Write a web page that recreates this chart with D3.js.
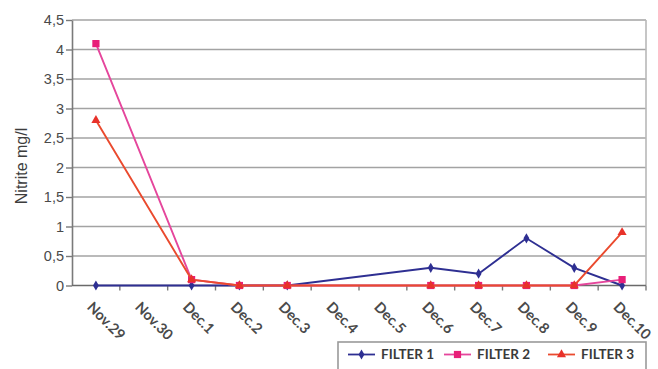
<!DOCTYPE html>
<html>
<head>
<meta charset="utf-8">
<script src="https://cdn.jsdelivr.net/npm/d3@7"></script>
<style>
  html, body { margin: 0; padding: 0; background: #fff; }
  svg { display: block; }
</style>
</head>
<body>
<svg id="chart" width="658" height="369"></svg>
<script>
// Sampling days along the horizontal axis
const categories = ["Nov.29", "Nov.30", "Dec.1", "Dec.2", "Dec.3", "Dec.4", "Dec.5",
                    "Dec.6", "Dec.7", "Dec.8", "Dec.9", "Dec.10"];

// Nitrite readings (mg/l); null = no sample that day
const filter1 = [0, null, 0, 0, 0, null, null, 0.3, 0.2, 0.8, 0.3, 0];
const filter2 = [4.1, null, 0.1, 0, 0, null, null, 0, 0, 0, 0, 0.1];
const filter3 = [2.8, null, 0.1, 0, 0, null, null, 0, 0, 0, 0, 0.9];

const yTicks = [0, 0.5, 1, 1.5, 2, 2.5, 3, 3.5, 4, 4.5];
const yTickLabels = ["0", "0,5", "1", "1,5", "2", "2,5", "3", "3,5", "4", "4,5"];
const seriesNames = ["FILTER 1", "FILTER 2", "FILTER 3"];

const series = [
  { name: seriesNames[0], values: filter1, color: "#2e2f92", marker: "diamond" },
  { name: seriesNames[1], values: filter2, color: "#e5469c", markerColor: "#e81f78", marker: "square" },
  { name: seriesNames[2], values: filter3, color: "#ea4a2e", markerColor: "#e8312a", marker: "triangle" }
];

const svg = d3.select("#chart");
const plot = { left: 72, right: 646, top: 20, bottom: 285.5 };

const x = d3.scaleBand().domain(categories).range([plot.left, plot.right]);
const y = d3.scaleLinear().domain([0, 4.5]).range([plot.bottom, plot.top]);
const cx = c => x(c) + x.bandwidth() / 2;

// Horizontal gridlines
svg.append("g")
  .selectAll("line")
  .data(yTicks.filter(v => v > 0))
  .join("line")
  .attr("x1", plot.left).attr("x2", plot.right)
  .attr("y1", d => y(d)).attr("y2", d => y(d))
  .attr("stroke", "#a3a3a3").attr("stroke-width", 1.6);

// Right border of the plot area
svg.append("line")
  .attr("x1", plot.right).attr("x2", plot.right)
  .attr("y1", plot.top).attr("y2", plot.bottom)
  .attr("stroke", "#b8b8b8").attr("stroke-width", 1.6);

// Y axis
const yAxis = d3.axisLeft(y)
  .tickValues(yTicks)
  .tickFormat((d, i) => yTickLabels[i])
  .tickSize(6)
  .tickSizeOuter(0);
const gy = svg.append("g")
  .attr("transform", `translate(${plot.left},0)`)
  .call(yAxis);
gy.select(".domain").attr("stroke", "#7a7a7a").attr("stroke-width", 1.6);
gy.selectAll(".tick line").attr("stroke", "#7a7a7a").attr("stroke-width", 1.4);
gy.selectAll(".tick text")
  .attr("x", -8)
  .attr("fill", "#4a4a4a")
  .style("font-family", "'Liberation Sans', Arial, sans-serif")
  .style("font-size", "14.5px");

// X axis: ticks sit between categories
const gx = svg.append("g").attr("transform", `translate(0,${plot.bottom})`);
gx.append("line")
  .attr("x1", plot.left).attr("x2", plot.right)
  .attr("stroke", "#6a6a6a").attr("stroke-width", 1.6);
gx.selectAll("line.tk")
  .data(categories)
  .join("line")
  .attr("class", "tk")
  .attr("x1", d => x(d) + x.bandwidth()).attr("x2", d => x(d) + x.bandwidth())
  .attr("y1", 0).attr("y2", 5)
  .attr("stroke", "#7a7a7a").attr("stroke-width", 1.4);
gx.selectAll("text")
  .data(categories)
  .join("text")
  .attr("transform", d => `translate(${cx(d) - 6},${19}) rotate(45)`)
  .attr("dy", "0.35em")
  .attr("text-anchor", "start")
  .attr("fill", "#4a4a4a")
  .style("font-family", "Lato, 'Open Sans', sans-serif")
  .style("font-weight", "700")
  .style("font-size", "14.5px")
  .text(d => d);

// Y axis title
svg.append("text")
  .attr("transform", "translate(27,166) rotate(-90)")
  .attr("text-anchor", "middle")
  .attr("fill", "#3d3d3d")
  .style("font-family", "'Liberation Sans', Arial, sans-serif")
  .style("font-size", "16px")
  .text("Nitrite mg/l");

// Marker shapes
const symbolFor = {
  diamond: d3.symbol().type(d3.symbolDiamond).size(30),
  square: d3.symbol().type(d3.symbolSquare).size(52),
  triangle: d3.symbol().type(d3.symbolTriangle).size(36)
};

const line = d3.line().x(d => cx(d.cat)).y(d => y(d.v));

series.forEach(s => {
  const pts = categories
    .map((c, i) => ({ cat: c, v: s.values[i] }))
    .filter(d => d.v !== null);
  const g = svg.append("g");
  g.append("path")
    .datum(pts)
    .attr("d", line)
    .attr("fill", "none")
    .attr("stroke", s.color)
    .attr("stroke-width", 1.9);
  g.selectAll("path.mk")
    .data(pts)
    .join("path")
    .attr("class", "mk")
    .attr("d", symbolFor[s.marker])
    .attr("transform", d => `translate(${cx(d.cat)},${y(d.v)})`)
    .attr("fill", s.markerColor || s.color);
});

// Legend
const legend = svg.append("g");
legend.append("rect")
  .attr("x", 338).attr("y", 342)
  .attr("width", 308).attr("height", 40)
  .attr("fill", "#fff")
  .attr("stroke", "#9a9a9a").attr("stroke-width", 1.6);

const legendX = [348, 444, 548];
series.forEach((s, i) => {
  const lx = legendX[i];
  const ly = 354.5;
  legend.append("line")
    .attr("x1", lx).attr("x2", lx + 27)
    .attr("y1", ly).attr("y2", ly)
    .attr("stroke", s.color).attr("stroke-width", 1.8);
  legend.append("path")
    .attr("d", symbolFor[s.marker])
    .attr("transform", `translate(${lx + 13.5},${ly})`)
    .attr("fill", s.markerColor || s.color);
  legend.append("text")
    .attr("x", lx + 33).attr("y", ly)
    .attr("dy", "0.36em")
    .attr("fill", "#3a3a3a")
    .style("font-family", "Lato, 'Open Sans', sans-serif")
    .style("font-weight", "700")
    .style("font-size", "13.5px")
    .text(s.name);
});
</script>
</body>
</html>
